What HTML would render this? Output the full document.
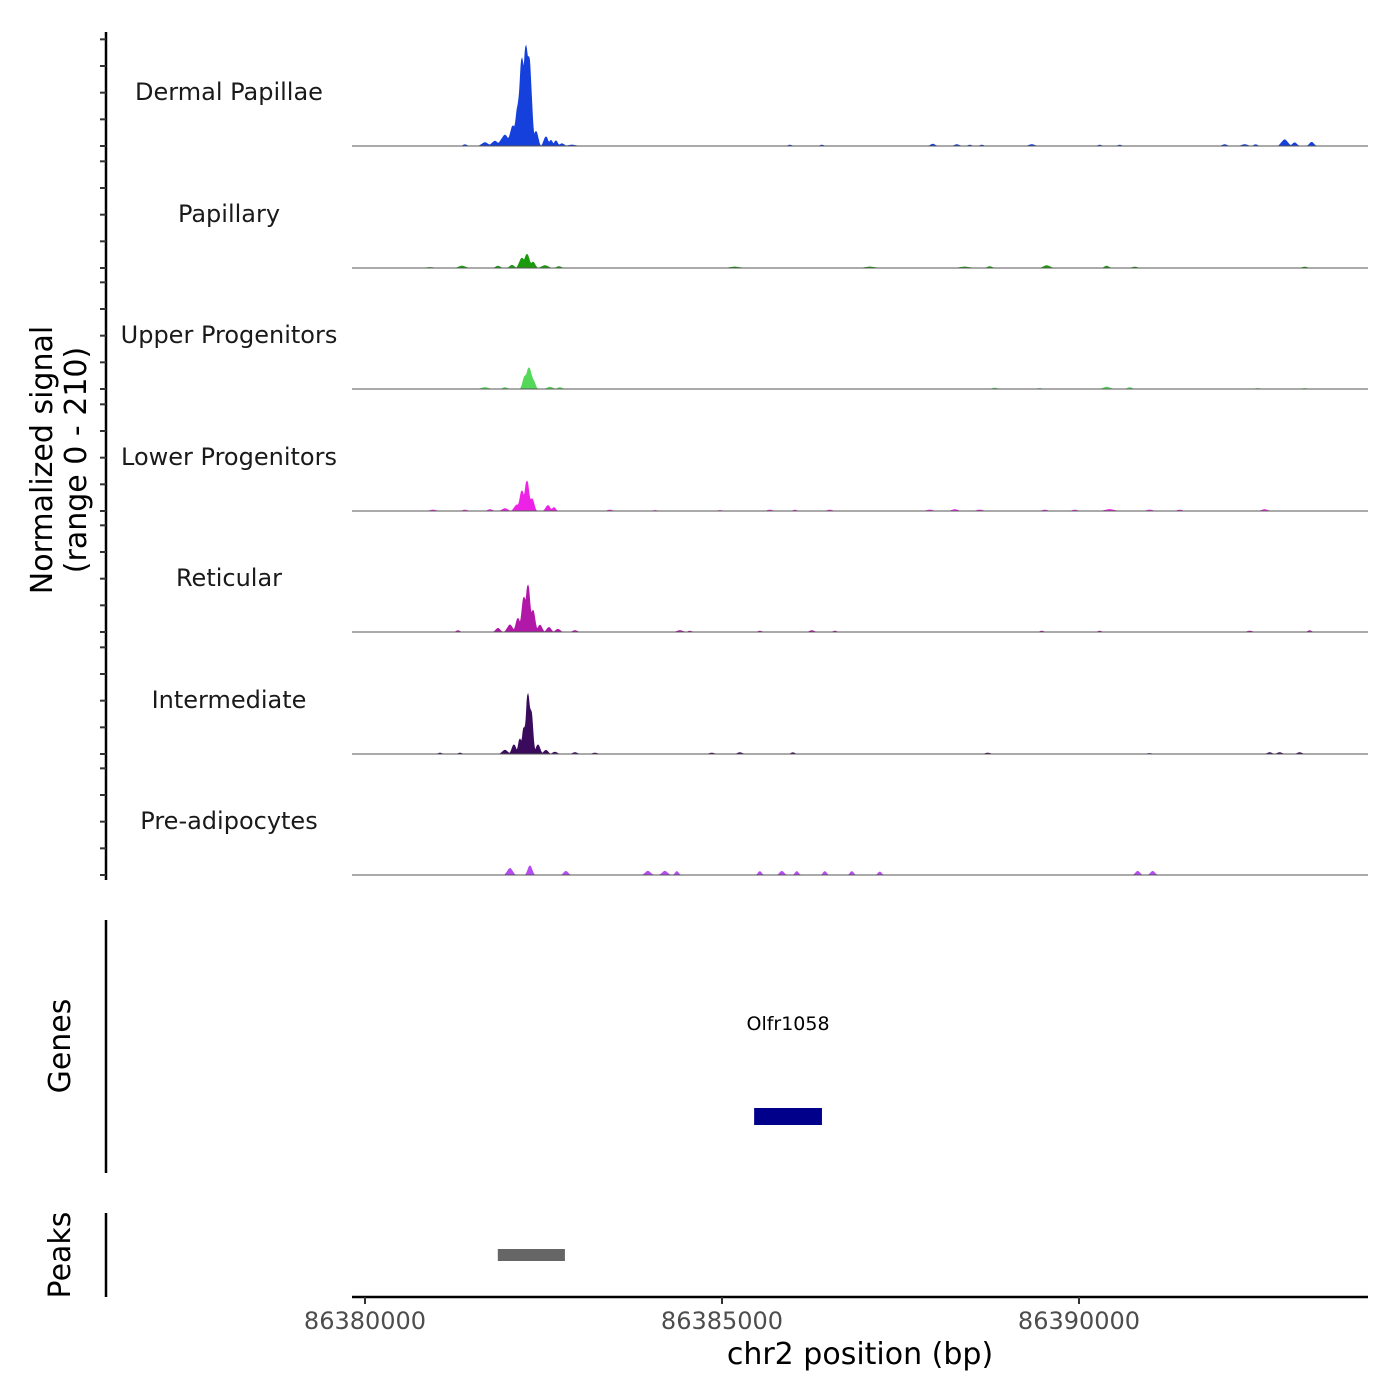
<!DOCTYPE html>
<html><head><meta charset="utf-8"><style>
html,body{margin:0;padding:0;background:#fff}
svg{display:block;font-family:"DejaVu Sans","Liberation Sans",sans-serif}
</style></head><body>
<svg id="chart" width="1400" height="1400" viewBox="0 0 1400 1400" xmlns="http://www.w3.org/2000/svg"></svg>
<script>
// ---- data ----
const regionStart = 86380000;
const xTicks = [86380000, 86385000, 86390000];
const xTickLabels = ["86380000", "86385000", "86390000"];
const trackNames = ["Dermal Papillae","Papillary","Upper Progenitors","Lower Progenitors","Reticular","Intermediate","Pre-adipocytes"];
const trackColors = ["#1640dc","#1a9a0c","#55d85a","#ee22e6","#b218a8","#3a0b5c","#b54cf2"];
const yMax = 210;
const yTicks = [0,50,100,150,200];
// bump centers (bp offset from regionStart), heights (signal), half-widths (bp)
const dpCenters=[2254,2198,2296,2142,2072,1960,1820,1680,1400,2394,2534,2604,2674,2758,2898,5950,6398,7952,8288,8470,8638,9338,10290,10570,12040,12320,12474,12880,13020,13258];
const dpHeights=[210,185,190,85,42,22,10,7,3,32,20,13,12,5,2,2,2,4,3,2,2,3,2,2,3,3,3,13,7,8];
const dpWidths=[80,75,70,70,84,112,84,84,42,56,56,42,42,56,84,42,42,56,56,42,42,70,42,42,56,70,42,84,56,56];
const paCenters=[2268,2198,2352,2058,2520,2716,1358,1862,910,5180,7070,8400,8750,9548,10388,10780,13160];
const paHeights=[29,21,13,6,5,3,4,4,1,2,2,2,3,5,4,2,2];
const paWidths=[70,70,56,56,84,56,84,56,84,112,112,112,56,84,56,56,56];
const upCenters=[2296,2240,2352,1680,1960,2590,2730,8820,10388,10710,9450,12502,13160];
const upHeights=[44,28,20,3,3,4,3,2,4,3,1,1,1];
const upWidths=[84,56,56,84,56,70,56,56,84,56,56,56,56];
const loCenters=[2268,2198,2338,2128,1960,2562,2646,1750,952,1400,3430,4060,4970,5670,6020,6510,7910,8260,8610,9520,9940,10430,10990,11410,12600];
const loHeights=[65,44,27,13,5,12,8,3,2,2,2,1,1,2,2,2,2,3,2,2,2,3,2,2,3];
const loWidths=[60,60,56,70,70,56,42,56,70,56,56,56,56,56,42,56,70,70,70,56,56,112,70,56,70];
const reCenters=[2282,2226,2352,2142,2030,1862,2450,2576,2702,2940,1302,4410,4550,5530,6258,6580,9478,10290,12390,13230];
const reHeights=[102,76,48,30,15,8,15,10,6,3,3,3,2,2,3,2,2,2,2,3];
const reWidths=[60,60,56,56,70,56,56,56,56,56,42,70,42,42,56,42,42,42,56,42];
const inCenters=[2282,2324,2226,2170,2086,1960,2422,2534,2660,2940,3220,1050,1330,4858,5250,5992,8722,10990,12670,12810,13090];
const inHeights=[135,98,62,35,20,8,20,8,4,3,2,2,2,2,3,3,2,1,3,3,3];
const inWidths=[50,50,42,42,56,70,56,56,56,56,56,42,42,56,56,42,56,56,56,56,56];
const prCenters=[2030,2310,2814,3962,4200,4368,5530,5838,6048,6440,6818,7210,10822,11032];
const prHeights=[14,20,8,8,8,8,8,8,8,8,8,7,8,8];
const prWidths=[70,56,56,70,70,42,42,56,42,42,42,42,56,56];
const trackCenters=[dpCenters,paCenters,upCenters,loCenters,reCenters,inCenters,prCenters];
const trackHeights=[dpHeights,paHeights,upHeights,loHeights,reHeights,inHeights,prHeights];
const trackWidths=[dpWidths,paWidths,upWidths,loWidths,reWidths,inWidths,prWidths];
const geneName="Olfr1058";
const geneStart=86385450, geneEnd=86386400;
const peakStart=86381860, peakEnd=86382800;

// ---- layout ----
const NS="http://www.w3.org/2000/svg";
const svg=document.getElementById('chart');
const plotL=352, plotR=1368;
const px0=365, pxPerBp=357/5000;
function xScale(bp){return px0+(bp-regionStart)*pxPerBp;}
const trackBase=[146,268,389,511,632,754,875];
const trackH=112;
function yScale(i,v){return trackBase[i]-v/yMax*trackH;}
function mk(tag,attrs,parent){const e=document.createElementNS(NS,tag);for(const k in attrs)e.setAttribute(k,attrs[k]);(parent||svg).appendChild(e);return e;}

// y axis
let ax=mk('line',{x1:106,y1:32,x2:106,y2:880,stroke:'#000','stroke-width':2.5});


trackBase.forEach((b,i)=>{
  yTicks.forEach(t=>{
    const y=yScale(i,t);
    const tk=mk('line',{x1:100,y1:y,x2:106,y2:y,stroke:'#333','stroke-width':2});
    
    
  });
});
const yt=mk('text',{x:0,y:0,'font-size':30,'text-anchor':'middle',fill:'#000',transform:'translate(52,460) rotate(-90)'});


const t1=mk('tspan',{x:0,dy:0},yt);t1.textContent='Normalized signal';
const t2=mk('tspan',{x:0,dy:34},yt);t2.textContent='(range 0 - '+yMax+')';

// tracks
trackNames.forEach((name,i)=>{
  const g=mk('g',{});
  
  
  const C=trackCenters[i],H=trackHeights[i],W=trackWidths[i];
  let vals=[],xs=[];
  for(let p=plotL;p<=plotR;p+=0.5){
    const bp=regionStart+(p-px0)/pxPerBp;
    let v=0;
    for(let k=0;k<C.length;k++){
      const d=Math.abs(bp-(regionStart+C[k]));
      if(d<W[k]){const val=H[k]*(1-d/W[k]);if(val>v)v=val;}
    }
    xs.push(p);vals.push(v);
  }
  const sm=vals.map((v,j)=>{let s=0,n=0;for(let q=-2;q<=2;q++){const u=vals[j+q];if(u!==undefined){s+=u;n++;}}return s/n;});
  const pts=xs.map((p,j)=>p.toFixed(1)+','+yScale(i,sm[j]).toFixed(2));
  const area=mk('polygon',{points:plotL+','+trackBase[i]+' '+pts.join(' ')+' '+plotR+','+trackBase[i],fill:trackColors[i],stroke:trackColors[i],'stroke-width':0.8},g);
  
  
  const base=mk('line',{x1:plotL,y1:trackBase[i],x2:plotR,y2:trackBase[i],stroke:'#555','stroke-width':1},g);
  
  
  const lb=mk('text',{x:229,y:trackBase[i]-46,'font-size':24,'text-anchor':'middle',fill:'#1a1a1a'},g);
  
  
  lb.textContent=name;
});

// genes panel
const ga=mk('line',{x1:106,y1:920,x2:106,y2:1173,stroke:'#000','stroke-width':2.5});


const gt=mk('text',{x:0,y:0,'font-size':30,'text-anchor':'middle',fill:'#000',transform:'translate(70,1046) rotate(-90)'});


gt.textContent='Genes';
const gr=mk('rect',{x:xScale(geneStart),y:1108,width:xScale(geneEnd)-xScale(geneStart),height:17,fill:'#00008b'});


const gl=mk('text',{x:(xScale(geneStart)+xScale(geneEnd))/2,y:1030,'font-size':19,'text-anchor':'middle',fill:'#000'});


gl.textContent=geneName;

// peaks panel
const pa=mk('line',{x1:106,y1:1213,x2:106,y2:1297,stroke:'#000','stroke-width':2.5});


const pt=mk('text',{x:0,y:0,'font-size':30,'text-anchor':'middle',fill:'#000',transform:'translate(70,1255) rotate(-90)'});


pt.textContent='Peaks';
const pr=mk('rect',{x:xScale(peakStart),y:1249,width:xScale(peakEnd)-xScale(peakStart),height:12,fill:'#666'});



// x axis
const xa=mk('line',{x1:plotL,y1:1297,x2:plotR,y2:1297,stroke:'#000','stroke-width':2.5});


xTicks.forEach((t,k)=>{
  const x=xScale(t);
  const tk=mk('line',{x1:x,y1:1297,x2:x,y2:1304,stroke:'#333','stroke-width':2});
  
  
  const tl=mk('text',{x:x,y:1329,'font-size':24,'text-anchor':'middle',fill:'#4d4d4d'});
  
  
  tl.textContent=xTickLabels[k];
});
const xt=mk('text',{x:860,y:1364,'font-size':30,'text-anchor':'middle',fill:'#000'});


xt.textContent='chr2 position (bp)';
</script>
</body></html>
